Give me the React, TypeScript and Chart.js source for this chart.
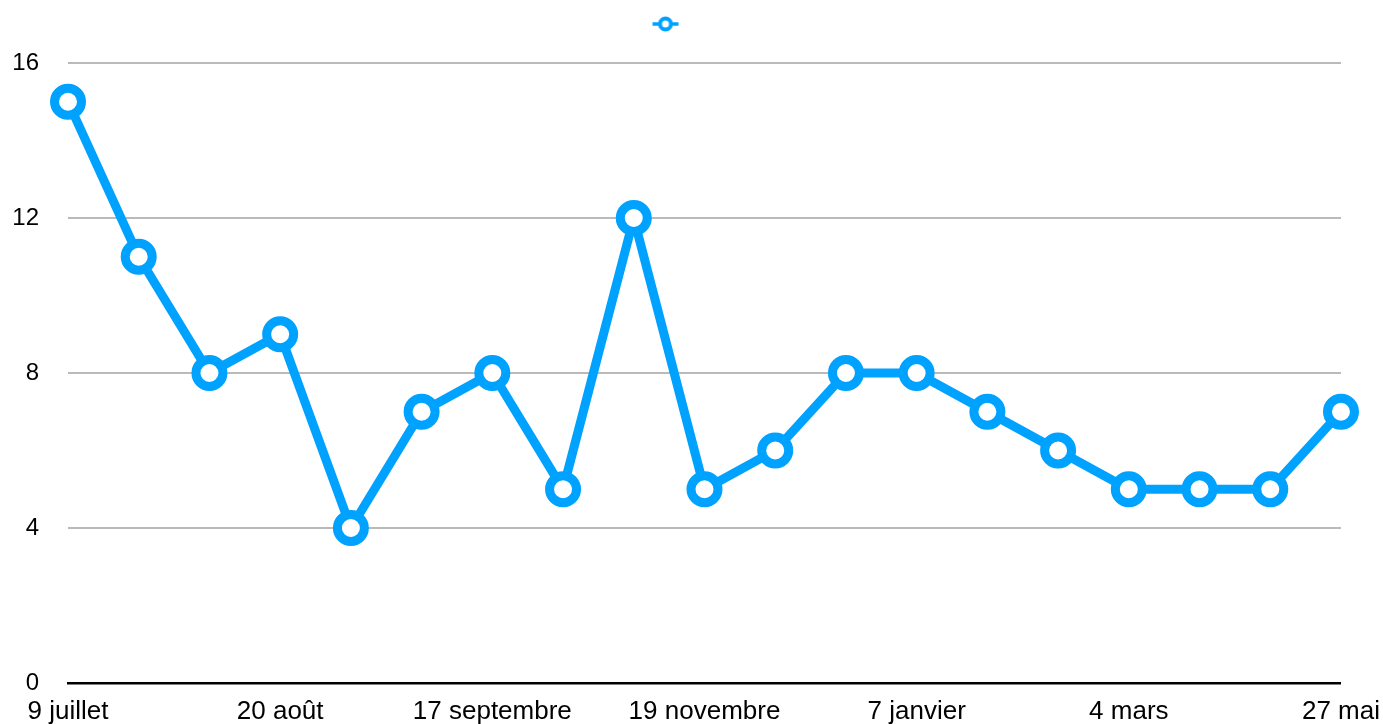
import React, { useEffect, useRef } from "react";
import { Chart, registerables } from "chart.js";

Chart.register(...registerables);

const categories: string[] = [
  "9 juillet", "", "", "20 août", "", "", "17 septembre", "", "", "19 novembre",
  "", "", "7 janvier", "", "", "4 mars", "", "", "27 mai",
];
const seriesValues: number[] = [15, 11, 8, 9, 4, 7, 8, 5, 12, 5, 6, 8, 8, 7, 6, 5, 5, 5, 7];
const yTicks: number[] = [0, 4, 8, 12, 16];

const BLUE = "#00a2ff";
const FONT = "'Liberation Sans', Arial, Helvetica, sans-serif";

function makeLegendSymbol(): HTMLCanvasElement {
  const c = document.createElement("canvas");
  c.width = 28;
  c.height = 60;
  const ctx = c.getContext("2d")!;
  const cy = 11; // symbol drawn above image centre
  ctx.strokeStyle = BLUE;
  ctx.lineWidth = 3.5;
  ctx.beginPath();
  ctx.moveTo(1, cy);
  ctx.lineTo(27, cy);
  ctx.stroke();
  ctx.beginPath();
  ctx.arc(14, cy, 5.5, 0, Math.PI * 2);
  ctx.fillStyle = "#ffffff";
  ctx.fill();
  ctx.lineWidth = 4;
  ctx.stroke();
  return c;
}

export default function App() {
  const ref = useRef<HTMLCanvasElement | null>(null);

  useEffect(() => {
    document.body.style.margin = "0";
    const canvas = ref.current;
    if (!canvas) return;
    const symbol = makeLegendSymbol();
    const chart = new Chart(canvas, {
      type: "line",
      data: {
        labels: categories,
        datasets: [
          {
            label: "",
            data: seriesValues,
            borderColor: BLUE,
            backgroundColor: "#ffffff",
            borderWidth: 9,
            pointRadius: 13.5,
            pointBorderWidth: 9,
            pointBackgroundColor: "#ffffff",
            pointBorderColor: BLUE,
            pointStyle: "circle",
            tension: 0,
            fill: false,
            clip: false as any,
          },
        ],
      },
      options: {
        responsive: false,
        animation: false,
        devicePixelRatio: 1,
        layout: { padding: { left: 0, right: 42, top: 0, bottom: 0 } },
        plugins: {
          tooltip: { enabled: false },
          legend: {
            display: true,
            position: "top",
            labels: {
              usePointStyle: true,
              font: { size: 20, family: FONT },
              padding: 33,
              generateLabels: () => [
                {
                  text: "",
                  pointStyle: symbol as any,
                  fillStyle: BLUE,
                  strokeStyle: BLUE,
                  lineWidth: 0,
                  hidden: false,
                  datasetIndex: 0,
                } as any,
              ],
            },
          },
        },
        scales: {
          x: {
            type: "category",
            offset: false,
            grid: { display: false, drawTicks: false },
            border: { display: true, color: "#000000", width: 2.5 },
            ticks: {
              autoSkip: false,
              maxRotation: 0,
              minRotation: 0,
              padding: 3,
              color: "#000000",
              font: { size: 26, family: FONT, lineHeight: 1.96 },
            },
            afterFit: (scale: any) => {
              scale.height = 41;
            },
          },
          y: {
            min: 0,
            max: 16,
            afterBuildTicks: (scale: any) => {
              scale.ticks = yTicks.map((v) => ({ value: v }));
            },
            grid: {
              color: "#bababa",
              lineWidth: 2,
              drawTicks: false,
            },
            border: { display: false },
            ticks: {
              padding: 29,
              color: "#000000",
              font: { size: 24, family: FONT, lineHeight: 0.5 },
            },
            afterFit: (scale: any) => {
              scale.width = 68;
            },
          },
        },
      },
    });
    return () => chart.destroy();
  }, []);

  return (
    <div style={{ width: 1383, height: 724 }}>
      <canvas ref={ref} width={1383} height={724} style={{ display: "block" }} />
    </div>
  );
}
